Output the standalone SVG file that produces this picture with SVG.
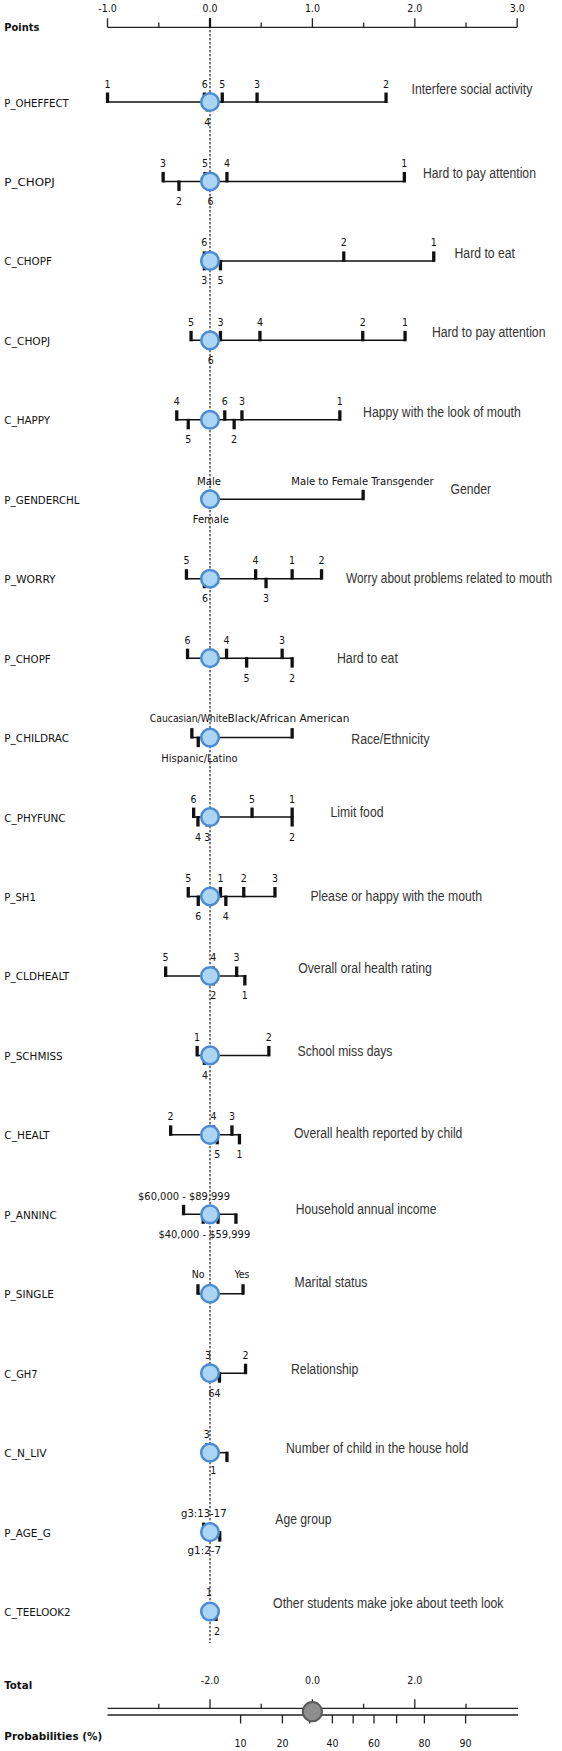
<svg xmlns="http://www.w3.org/2000/svg" xmlns:xlink="http://www.w3.org/1999/xlink" width="562" height="1751" viewBox="0 0 562 1751">
<style>
.lbl{font-family:"DejaVu Sans Condensed","DejaVu Sans",sans-serif;font-size:11px;fill:#111}
.b{font-weight:bold}
.num{font-family:"DejaVu Sans Condensed","DejaVu Sans",sans-serif;font-size:10.5px;fill:#111;text-anchor:middle}
.desc{font-family:"Liberation Sans Narrow","Liberation Sans",sans-serif;font-size:14px;fill:#333}
.ln{stroke:#111;stroke-width:1.5;fill:none}
.ax{stroke:#222;stroke-width:1.3;fill:none}
.bar{fill:#111}
.pt{fill:#acd5f4;stroke:#4a8bd4;stroke-width:2.5}
</style>
<defs>
<rect id="u" class="bar" x="-1.6" y="-9.5" width="3.3" height="10.5"/>
<rect id="d" class="bar" x="-1.6" y="-1" width="3.3" height="10.5"/>
<circle id="pt" class="pt" r="8.8"/>
</defs>
<rect width="562" height="1751" fill="#fff"/>

<g id="points-axis">
<text class="lbl b" x="4.3" y="31" textLength="35" lengthAdjust="spacingAndGlyphs">Points</text>
<line class="ax" x1="107.5" y1="27.3" x2="517.2" y2="27.3"/>
<path class="ax" d="M107.5 18.3V27.3M158.8 22.6V27.3M261.2 22.6V27.3M312.4 18.3V27.3M363.6 22.6V27.3M414.8 18.3V27.3M466 22.6V27.3M517.2 18.3V27.3"/>
<line x1="210" y1="18" x2="210" y2="27.3" stroke="#111" stroke-width="2.2"/>
<text class="num" x="107.5" y="12">-1.0</text>
<text class="num" x="210" y="12">0.0</text>
<text class="num" x="312.4" y="12">1.0</text>
<text class="num" x="414.8" y="12">2.0</text>
<text class="num" x="517.2" y="12">3.0</text>
</g>

<g id="P_OHEFFECT" transform="translate(0,102)">
<text class="lbl" x="4.3" y="4.5" textLength="64.5" lengthAdjust="spacingAndGlyphs">P_OHEFFECT</text>
<line class="ln" x1="107.5" y1="0" x2="386" y2="0"/>
<use href="#u" x="107.5"/><use href="#u" x="204.3"/><use href="#u" x="222.2"/><use href="#u" x="257"/><use href="#u" x="386"/>
<use href="#d" x="207.2"/>
<text class="num" x="107.5" y="-14.5">1</text><text class="num" x="204.7" y="-14.5">6</text><text class="num" x="222.2" y="-14.5">5</text><text class="num" x="257" y="-14.5">3</text><text class="num" x="386" y="-14.5">2</text>
<text class="num" x="207.2" y="23.5">4</text>
<text class="desc" x="411.5" y="-7.7" textLength="120.8" lengthAdjust="spacingAndGlyphs">Interfere social activity</text>
</g>

<g id="P_CHOPJ" transform="translate(0,181.45)">
<text class="lbl" x="4.3" y="4.5" textLength="50.5" lengthAdjust="spacingAndGlyphs">P_CHOPJ</text>
<line class="ln" x1="163.1" y1="0" x2="404.3" y2="0"/>
<use href="#u" x="163.1"/><use href="#u" x="205"/><use href="#u" x="226.9"/><use href="#u" x="404.3"/>
<use href="#d" x="178.9"/><use href="#d" x="210.4"/>
<text class="num" x="163.1" y="-14.5">3</text><text class="num" x="205" y="-14.5">5</text><text class="num" x="226.9" y="-14.5">4</text><text class="num" x="404.3" y="-14.5">1</text>
<text class="num" x="178.9" y="23.5">2</text><text class="num" x="210.4" y="23.5">6</text>
<text class="desc" x="423" y="-3.8" textLength="112.9" lengthAdjust="spacingAndGlyphs">Hard to pay attention</text>
</g>

<g id="C_CHOPF" transform="translate(0,260.9)">
<text class="lbl" x="4.3" y="4.5" textLength="47.6" lengthAdjust="spacingAndGlyphs">C_CHOPF</text>
<line class="ln" x1="204.3" y1="0" x2="433.7" y2="0"/>
<use href="#u" x="204.3"/><use href="#u" x="343.7"/><use href="#u" x="433.7"/>
<use href="#d" x="204.3"/><use href="#d" x="220.4"/>
<text class="num" x="204.3" y="-14.5">6</text><text class="num" x="343.7" y="-14.5">2</text><text class="num" x="433.7" y="-14.5">1</text>
<text class="num" x="204.3" y="23.5">3</text><text class="num" x="220.4" y="23.5">5</text>
<text class="desc" x="454.5" y="-2.6" textLength="60.5" lengthAdjust="spacingAndGlyphs">Hard to eat</text>
</g>

<g id="C_CHOPJ" transform="translate(0,340.35)">
<text class="lbl" x="4.3" y="4.5" textLength="45.9" lengthAdjust="spacingAndGlyphs">C_CHOPJ</text>
<line class="ln" x1="191" y1="0" x2="405" y2="0"/>
<use href="#u" x="191"/><use href="#u" x="220.4"/><use href="#u" x="259.9"/><use href="#u" x="362.7"/><use href="#u" x="405"/>
<use href="#d" x="210.8"/>
<text class="num" x="191" y="-14.5">5</text><text class="num" x="220.4" y="-14.5">3</text><text class="num" x="259.9" y="-14.5">4</text><text class="num" x="362.7" y="-14.5">2</text><text class="num" x="405" y="-14.5">1</text>
<text class="num" x="210.8" y="23.5">6</text>
<text class="desc" x="431.9" y="-3" textLength="113.6" lengthAdjust="spacingAndGlyphs">Hard to pay attention</text>
</g>

<g id="C_HAPPY" transform="translate(0,419.8)">
<text class="lbl" x="4.3" y="4.5" textLength="45.9" lengthAdjust="spacingAndGlyphs">C_HAPPY</text>
<line class="ln" x1="176.7" y1="0" x2="339.8" y2="0"/>
<use href="#u" x="176.7"/><use href="#u" x="224.7"/><use href="#u" x="241.9"/><use href="#u" x="339.8"/>
<use href="#d" x="188.2"/><use href="#d" x="234.1"/>
<text class="num" x="176.7" y="-14.5">4</text><text class="num" x="224.7" y="-14.5">6</text><text class="num" x="241.9" y="-14.5">3</text><text class="num" x="339.8" y="-14.5">1</text>
<text class="num" x="188.2" y="23.5">5</text><text class="num" x="234.1" y="23.5">2</text>
<text class="desc" x="363.1" y="-3.1" textLength="157.7" lengthAdjust="spacingAndGlyphs">Happy with the look of mouth</text>
</g>

<g id="P_GENDERCHL" transform="translate(0,499.25)">
<text class="lbl" x="4.3" y="4.5" textLength="75.3" lengthAdjust="spacingAndGlyphs">P_GENDERCHL</text>
<line class="ln" x1="210" y1="0" x2="363.1" y2="0"/>
<use href="#u" x="210"/><use href="#u" x="363.1"/>
<use href="#d" x="210"/>
<text class="num" x="209" y="-14.5" textLength="24" lengthAdjust="spacingAndGlyphs">Male</text>
<text class="num" x="362.4" y="-14.5" textLength="142.3" lengthAdjust="spacingAndGlyphs">Male to Female Transgender</text>
<text class="num" x="210.8" y="23.5" textLength="36" lengthAdjust="spacingAndGlyphs">Female</text>
<text class="desc" x="450.6" y="-5.2" textLength="40.5" lengthAdjust="spacingAndGlyphs">Gender</text>
</g>

<g id="P_WORRY" transform="translate(0,578.7)">
<text class="lbl" x="4.3" y="4.5" textLength="51.3" lengthAdjust="spacingAndGlyphs">P_WORRY</text>
<line class="ln" x1="186.4" y1="0" x2="321.5" y2="0"/>
<use href="#u" x="186.4"/><use href="#u" x="255.6"/><use href="#u" x="292.1"/><use href="#u" x="321.5"/>
<use href="#d" x="204.3"/><use href="#d" x="266"/>
<text class="num" x="186.4" y="-14.5">5</text><text class="num" x="255.6" y="-14.5">4</text><text class="num" x="292.1" y="-14.5">1</text><text class="num" x="321.5" y="-14.5">2</text>
<text class="num" x="205" y="23.5">6</text><text class="num" x="266" y="23.5">3</text>
<g transform="translate(346,4) scale(0.8,1)">
<text class="desc" x="0" y="0" textLength="257.5" lengthAdjust="spacingAndGlyphs">Worry about problems related to mouth</text>
</g>
</g>

<g id="P_CHOPF" transform="translate(0,658.15)">
<text class="lbl" x="4.3" y="4.5" textLength="46.5" lengthAdjust="spacingAndGlyphs">P_CHOPF</text>
<line class="ln" x1="187.5" y1="0" x2="292.1" y2="0"/>
<use href="#u" x="187.5"/><use href="#u" x="226.5"/><use href="#u" x="282.1"/>
<use href="#d" x="246.6"/><use href="#d" x="292.1"/>
<text class="num" x="187.5" y="-14.5">6</text><text class="num" x="226.5" y="-14.5">4</text><text class="num" x="282.1" y="-14.5">3</text>
<text class="num" x="246.6" y="23.5">5</text><text class="num" x="292.1" y="23.5">2</text>
<text class="desc" x="336.9" y="4.5" textLength="61" lengthAdjust="spacingAndGlyphs">Hard to eat</text>
</g>

<g id="P_CHILDRAC" transform="translate(0,737.6)">
<text class="lbl" x="4.3" y="4.5" textLength="64.8" lengthAdjust="spacingAndGlyphs">P_CHILDRAC</text>
<line class="ln" x1="191.8" y1="0" x2="292.1" y2="0"/>
<use href="#u" x="191.8"/><use href="#u" x="292.1"/>
<use href="#d" x="198.2"/>
<text class="num" x="188.7" y="-15.5" textLength="77.8" lengthAdjust="spacingAndGlyphs">Caucasian/White</text>
<text class="num" x="288.5" y="-15.5" textLength="121.9" lengthAdjust="spacingAndGlyphs">Black/African American</text>
<text class="num" x="199.5" y="24" textLength="76.3" lengthAdjust="spacingAndGlyphs">Hispanic/Latino</text>
<text class="desc" x="351.3" y="6.4" textLength="78.2" lengthAdjust="spacingAndGlyphs">Race/Ethnicity</text>
</g>

<g id="C_PHYFUNC" transform="translate(0,817.05)">
<text class="lbl" x="4.3" y="4.5" textLength="61.3" lengthAdjust="spacingAndGlyphs">C_PHYFUNC</text>
<line class="ln" x1="193.6" y1="0" x2="292.1" y2="0"/>
<use href="#u" x="193.6"/><use href="#u" x="252"/><use href="#u" x="292.1"/>
<use href="#d" x="197.9"/><use href="#d" x="207.2"/><use href="#d" x="292.1"/>
<text class="num" x="193.6" y="-14.5">6</text><text class="num" x="252" y="-14.5">5</text><text class="num" x="292.1" y="-14.5">1</text>
<text class="num" x="197.9" y="23.5">4</text><text class="num" x="207.2" y="23.5">3</text><text class="num" x="292.1" y="23.5">2</text>
<text class="desc" x="330.5" y="0" textLength="53" lengthAdjust="spacingAndGlyphs">Limit food</text>
</g>

<g id="P_SH1" transform="translate(0,896.5)">
<text class="lbl" x="4.3" y="4.5" textLength="31.5" lengthAdjust="spacingAndGlyphs">P_SH1</text>
<line class="ln" x1="188.2" y1="0" x2="274.9" y2="0"/>
<use href="#u" x="188.2"/><use href="#u" x="220.4"/><use href="#u" x="243.7"/><use href="#u" x="274.9"/>
<use href="#d" x="198.2"/><use href="#d" x="225.8"/>
<text class="num" x="188.2" y="-14.5">5</text><text class="num" x="220.4" y="-14.5">1</text><text class="num" x="243.7" y="-14.5">2</text><text class="num" x="274.9" y="-14.5">3</text>
<text class="num" x="198.2" y="23.5">6</text><text class="num" x="225.8" y="23.5">4</text>
<text class="desc" x="310.4" y="4.5" textLength="171.7" lengthAdjust="spacingAndGlyphs">Please or happy with the mouth</text>
</g>

<g id="P_CLDHEALT" transform="translate(0,975.95)">
<text class="lbl" x="4.3" y="4.5" textLength="64.8" lengthAdjust="spacingAndGlyphs">P_CLDHEALT</text>
<line class="ln" x1="165.6" y1="0" x2="244.8" y2="0"/>
<use href="#u" x="165.6"/><use href="#u" x="213.3"/><use href="#u" x="236.6"/>
<use href="#d" x="213.3"/><use href="#d" x="244.8"/>
<text class="num" x="165.6" y="-14.5">5</text><text class="num" x="213.3" y="-14.5">4</text><text class="num" x="236.6" y="-14.5">3</text>
<text class="num" x="213.3" y="23.5">2</text><text class="num" x="244.8" y="23.5">1</text>
<text class="desc" x="298.2" y="-2.6" textLength="133.6" lengthAdjust="spacingAndGlyphs">Overall oral health rating</text>
</g>

<g id="P_SCHMISS" transform="translate(0,1055.4)">
<text class="lbl" x="4.3" y="4.5" textLength="58.4" lengthAdjust="spacingAndGlyphs">P_SCHMISS</text>
<line class="ln" x1="197.1" y1="0" x2="268.8" y2="0"/>
<use href="#u" x="197.1"/><use href="#u" x="268.8"/>
<use href="#d" x="204.3"/>
<text class="num" x="197.1" y="-14.5">1</text><text class="num" x="268.8" y="-14.5">2</text>
<text class="num" x="205" y="23.5">4</text>
<text class="desc" x="297.5" y="0.6" textLength="94.9" lengthAdjust="spacingAndGlyphs">School miss days</text>
</g>

<g id="C_HEALT" transform="translate(0,1134.85)">
<text class="lbl" x="4.3" y="4.5" textLength="45.2" lengthAdjust="spacingAndGlyphs">C_HEALT</text>
<line class="ln" x1="170.6" y1="0" x2="239.4" y2="0"/>
<use href="#u" x="170.6"/><use href="#u" x="213.6"/><use href="#u" x="231.9"/>
<use href="#d" x="217.2"/><use href="#d" x="239.4"/>
<text class="num" x="170.6" y="-14.5">2</text><text class="num" x="213.6" y="-14.5">4</text><text class="num" x="231.9" y="-14.5">3</text>
<text class="num" x="217.2" y="23.5">5</text><text class="num" x="239.4" y="23.5">1</text>
<text class="desc" x="293.9" y="2.8" textLength="168.5" lengthAdjust="spacingAndGlyphs">Overall health reported by child</text>
</g>

<g id="P_ANNINC" transform="translate(0,1214.3)">
<text class="lbl" x="4.3" y="4.5" textLength="52.4" lengthAdjust="spacingAndGlyphs">P_ANNINC</text>
<line class="ln" x1="183.5" y1="0" x2="235.9" y2="0"/>
<use href="#u" x="183.5"/>
<use href="#d" x="203.2"/><use href="#d" x="218"/><use href="#d" x="235.9"/>
<text class="num" x="184" y="-14.5" textLength="92" lengthAdjust="spacingAndGlyphs">$60,000 - $89,999</text>
<text class="num" x="204.3" y="23.5" textLength="91.8" lengthAdjust="spacingAndGlyphs">$40,000 - $59,999</text>
<text class="desc" x="295.7" y="0" textLength="140.8" lengthAdjust="spacingAndGlyphs">Household annual income</text>
</g>

<g id="P_SINGLE" transform="translate(0,1293.75)">
<text class="lbl" x="4.3" y="4.5" textLength="49.5" lengthAdjust="spacingAndGlyphs">P_SINGLE</text>
<line class="ln" x1="197.9" y1="0" x2="243" y2="0"/>
<use href="#u" x="197.9"/><use href="#u" x="243"/>
<text class="num" x="198.2" y="-15.5">No</text>
<text class="num" x="242" y="-15.5">Yes</text>
<text class="desc" x="294.6" y="-7" textLength="72.8" lengthAdjust="spacingAndGlyphs">Marital status</text>
</g>

<g id="C_GH7" transform="translate(0,1373.2)">
<text class="lbl" x="4.3" y="4.5" textLength="33.3" lengthAdjust="spacingAndGlyphs">C_GH7</text>
<line class="ln" x1="210" y1="0" x2="245.5" y2="0"/>
<use href="#u" x="207.9"/><use href="#u" x="245.5"/>
<use href="#d" x="219.4"/>
<text class="num" x="207.9" y="-14.5">3</text><text class="num" x="245.5" y="-14.5">2</text>
<text class="num" x="211.5" y="23.5">6</text><text class="num" x="217.6" y="23.5">4</text>
<text class="desc" x="291" y="1.1" textLength="67.4" lengthAdjust="spacingAndGlyphs">Relationship</text>
</g>

<g id="C_N_LIV" transform="translate(0,1452.65)">
<text class="lbl" x="4.3" y="4.5" textLength="42.3" lengthAdjust="spacingAndGlyphs">C_N_LIV</text>
<line class="ln" x1="210" y1="0" x2="226.9" y2="0"/>
<use href="#u" x="206.8"/>
<use href="#d" x="226.9"/>
<text class="num" x="206.8" y="-14.5">3</text>
<text class="num" x="213.3" y="21">1</text>
<text class="desc" x="286" y="0" textLength="182.4" lengthAdjust="spacingAndGlyphs">Number of child in the house hold</text>
</g>

<g id="P_AGE_G" transform="translate(0,1532.1)">
<text class="lbl" x="4.3" y="4.5" textLength="46.5" lengthAdjust="spacingAndGlyphs">P_AGE_G</text>
<line class="ln" x1="203.6" y1="0" x2="219.7" y2="0"/>
<use href="#u" x="203.6"/>
<use href="#d" x="219.7"/>
<text class="num" x="203.8" y="-15.4" textLength="45.5" lengthAdjust="spacingAndGlyphs">g3:13-17</text>
<text class="num" x="204.3" y="22.2" textLength="33.7" lengthAdjust="spacingAndGlyphs">g1:2-7</text>
<text class="desc" x="275.3" y="-7.8" textLength="56.2" lengthAdjust="spacingAndGlyphs">Age group</text>
</g>

<g id="C_TEELOOK2" transform="translate(0,1611.55)">
<text class="lbl" x="4.3" y="4.5" textLength="66.3" lengthAdjust="spacingAndGlyphs">C_TEELOOK2</text>
<use href="#d" x="216"/>
<text class="num" x="209" y="-16">1</text>
<text class="num" x="216.9" y="23.5">2</text>
<text class="desc" x="273.1" y="-3.2" textLength="230.4" lengthAdjust="spacingAndGlyphs">Other students make joke about teeth look</text>
</g>

<g id="connectors">
<line x1="210" y1="18" x2="210" y2="1643" stroke="#222" stroke-width="1.2" stroke-dasharray="2.2,1.8"/>
</g>

<g id="markers">
<use href="#pt" x="210" y="102"/>
<use href="#pt" x="210" y="181.45"/>
<use href="#pt" x="210" y="260.9"/>
<use href="#pt" x="210" y="340.35"/>
<use href="#pt" x="210" y="419.8"/>
<use href="#pt" x="210" y="499.25"/>
<use href="#pt" x="210" y="578.7"/>
<use href="#pt" x="210" y="658.15"/>
<use href="#pt" x="210" y="737.6"/>
<use href="#pt" x="210" y="817.05"/>
<use href="#pt" x="210" y="896.5"/>
<use href="#pt" x="210" y="975.95"/>
<use href="#pt" x="210" y="1055.4"/>
<use href="#pt" x="210" y="1134.85"/>
<use href="#pt" x="210" y="1214.3"/>
<use href="#pt" x="210" y="1293.75"/>
<use href="#pt" x="210" y="1373.2"/>
<use href="#pt" x="210" y="1452.65"/>
<use href="#pt" x="210" y="1532.1"/>
<use href="#pt" x="210" y="1611.55"/>
</g>

<g id="total-axis">
<text class="lbl b" x="4.3" y="1689.3" textLength="27.9" lengthAdjust="spacingAndGlyphs">Total</text>
<text class="lbl b" x="4.3" y="1740" textLength="97.9" lengthAdjust="spacingAndGlyphs">Probabilities (%)</text>
<line class="ax" x1="107.5" y1="1708.3" x2="518" y2="1708.3"/>
<line class="ax" x1="107.5" y1="1715" x2="518" y2="1715"/>
<path class="ax" d="M158.8 1703.8V1708.3M210 1699.3V1708.3M261.2 1703.8V1708.3M312.4 1699.3V1708.3M363.6 1703.8V1708.3M414.8 1699.3V1708.3M466 1703.8V1708.3"/>
<path class="ax" d="M240.6 1715V1723.5M282.4 1715V1723.5M309.8 1715V1723.5M332.4 1715V1723.5M353.2 1715V1723.5M374 1715V1723.5M396.6 1715V1723.5M424.4 1715V1723.5M465.6 1715V1723.5"/>
<text class="num" x="210" y="1684.3">-2.0</text>
<text class="num" x="312.4" y="1684.3">0.0</text>
<text class="num" x="414.8" y="1684.3">2.0</text>
<text class="num" x="240.6" y="1746.7">10</text>
<text class="num" x="282.4" y="1746.7">20</text>
<text class="num" x="332.4" y="1746.7">40</text>
<text class="num" x="374" y="1746.7">60</text>
<text class="num" x="424.4" y="1746.7">80</text>
<text class="num" x="465.6" y="1746.7">90</text>
<circle cx="312.4" cy="1711.7" r="9.6" fill="#8e8e8e" stroke="#5a5a5a" stroke-width="2"/>
</g>
</svg>
